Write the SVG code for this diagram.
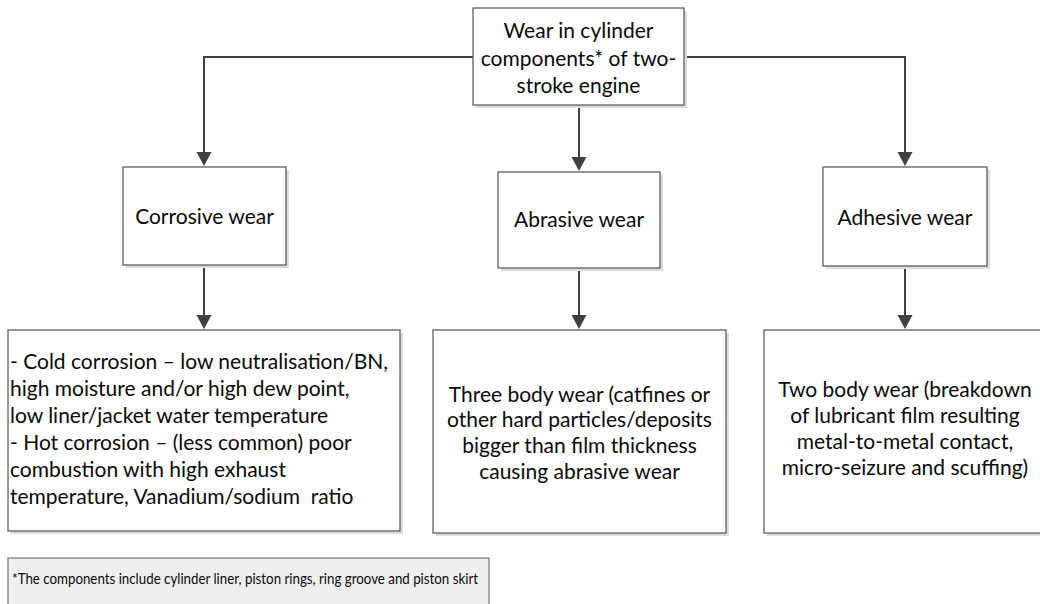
<svg xmlns="http://www.w3.org/2000/svg" width="1040" height="604" viewBox="0 0 1040 604">
<defs>
<style>
.box{fill:#ffffff;stroke:#5f5f5f;stroke-width:1.3}
.sh{fill:#dcdcdc}
.note{fill:#efefef;stroke:#7f7f7f;stroke-width:1.3}
.t{font-family:Lato,"Open Sans","Liberation Sans",sans-serif;font-size:21px;fill:#0a0a0a}
.c{text-anchor:middle}
.s{font-size:15px}
.ln{fill:none;stroke:#404040;stroke-width:2}
.ah{fill:#404040}
</style>
</defs>
<rect width="1040" height="604" fill="#ffffff"/>
<g id="connectors">
<path class="ln" d="M473,57 H204 V152"/>
<path class="ah" d="M196.5,152 L211.5,152 L204,166 Z"/>
<path class="ln" d="M684,57 H905 V152"/>
<path class="ah" d="M897.5,152 L912.5,152 L905,166 Z"/>
<path class="ln" d="M579,105 V158"/>
<path class="ah" d="M571.5,157 L586.5,157 L579,171 Z"/>
<path class="ln" d="M204,265 V316"/>
<path class="ah" d="M196.5,315 L211.5,315 L204,329 Z"/>
<path class="ln" d="M579,268 V316"/>
<path class="ah" d="M571.5,315 L586.5,315 L579,329 Z"/>
<path class="ln" d="M905,266 V316"/>
<path class="ah" d="M897.5,315 L912.5,315 L905,329 Z"/>
</g>
<g id="root">
<rect class="sh" x="476" y="11" width="211" height="97"/>
<rect class="box" x="473" y="8" width="211" height="97"/>
<text class="t c" x="578.5" y="38">Wear in cylinder</text>
<text class="t c" x="578.5" y="66">components* of two-</text>
<text class="t c" x="578.5" y="93">stroke engine</text>
</g>
<g id="corrosive">
<rect class="sh" x="126" y="170" width="163" height="98"/>
<rect class="box" x="123" y="167" width="163" height="98"/>
<text class="t c" x="204.5" y="224">Corrosive wear</text>
</g>
<g id="abrasive">
<rect class="sh" x="501" y="175" width="162" height="96"/>
<rect class="box" x="498" y="172" width="162" height="96"/>
<text class="t c" x="579" y="227">Abrasive wear</text>
</g>
<g id="adhesive">
<rect class="sh" x="826" y="170" width="164" height="99"/>
<rect class="box" x="823" y="167" width="164" height="99"/>
<text class="t c" x="905" y="225">Adhesive wear</text>
</g>
<g id="corrosive-detail">
<rect class="sh" x="11" y="333" width="392" height="201"/>
<rect class="box" x="8" y="330" width="392" height="201"/>
<text class="t" x="10" y="369">- Cold corrosion – low neutralisation/BN,</text>
<text class="t" x="10" y="396">high moisture and/or high dew point,</text>
<text class="t" x="10" y="423">low liner/jacket water temperature</text>
<text class="t" x="10" y="450">- Hot corrosion – (less common) poor</text>
<text class="t" x="10" y="477">combustion with high exhaust</text>
<text class="t" x="10" y="504">temperature, Vanadium/sodium&#160; ratio</text>
</g>
<g id="abrasive-detail">
<rect class="sh" x="436" y="333" width="293" height="203"/>
<rect class="box" x="433" y="330" width="293" height="203"/>
<text class="t c" x="579.5" y="402">Three body wear (catfines or</text>
<text class="t c" x="579.5" y="427">other hard particles/deposits</text>
<text class="t c" x="579.5" y="453">bigger than film thickness</text>
<text class="t c" x="579.5" y="479">causing abrasive wear</text>
</g>
<g id="adhesive-detail">
<rect class="sh" x="767" y="333" width="282" height="203"/>
<rect class="box" x="764" y="330" width="282" height="203"/>
<text class="t c" x="905" y="397">Two body wear (breakdown</text>
<text class="t c" x="905" y="423">of lubricant film resulting</text>
<text class="t c" x="905" y="449">metal-to-metal contact,</text>
<text class="t c" x="905" y="475">micro-seizure and scuffing)</text>
</g>
<g id="footnote">
<rect class="note" x="8" y="558" width="481" height="60"/>
<text class="t s" x="12" y="584" textLength="466" lengthAdjust="spacingAndGlyphs">*The components include cylinder liner, piston rings, ring groove and piston skirt</text>
</g>
</svg>
